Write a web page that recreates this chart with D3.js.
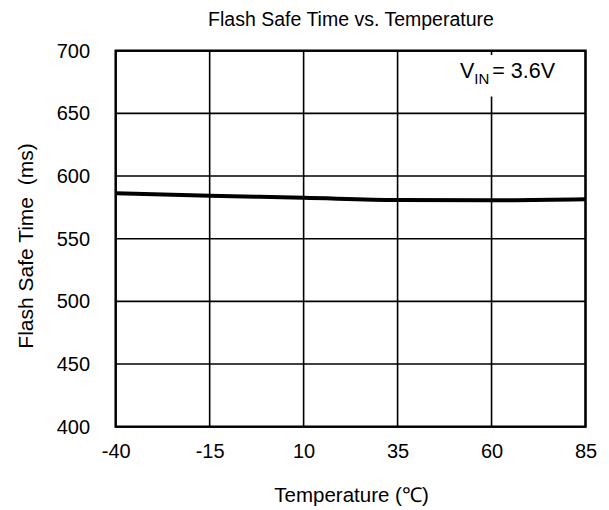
<!DOCTYPE html>
<html>
<head>
<meta charset="utf-8">
<script src="https://cdn.jsdelivr.net/npm/d3@7"></script>
<style>
  html, body { margin: 0; padding: 0; background: #fff; }
  svg { display: block; }
  text { font-family: "Liberation Sans", Arial, sans-serif; fill: #000; }
</style>
</head>
<body>
<svg id="chart" width="609" height="510"></svg>
<script>
// ---- data ----
const temperatures = [-40, -15, 10, 35, 60, 85];
const safeTime = [586.2, 584.3, 582.7, 580.9, 580.6, 581.4];
const xTicks = [-40, -15, 10, 35, 60, 85];
const yTicks = [400, 450, 500, 550, 600, 650, 700];
const chartTitle = "Flash Safe Time vs. Temperature";
const xTitle = "Temperature (℃)";
const yTitle = "Flash Safe Time  (ms)";

// ---- layout ----
const svg = d3.select("#chart");
const plotL = 115.7, plotR = 585.5, plotT = 50.7, plotB = 426.7;

const x = d3.scaleLinear().domain([-40, 85]).range([plotL, plotR]);
const y = d3.scaleLinear().domain([400, 700]).range([plotB, plotT]);

// gridlines
const grid = svg.append("g").attr("stroke", "#000").attr("stroke-width", 1.6);
grid.selectAll("line.v").data(xTicks).join("line").attr("class", "v")
  .attr("x1", d => x(d)).attr("x2", d => x(d))
  .attr("y1", plotT).attr("y2", plotB);
grid.selectAll("line.h").data(yTicks).join("line").attr("class", "h")
  .attr("x1", plotL).attr("x2", plotR)
  .attr("y1", d => y(d)).attr("y2", d => y(d));

// annotation background box (covers gridline)
svg.append("rect")
  .attr("x", 455).attr("y", 55)
  .attr("width", 126).attr("height", 41.5)
  .attr("fill", "#fff");

// data line
const line = d3.line()
  .x((d, i) => x(temperatures[i]))
  .y(d => y(d))
  .curve(d3.curveMonotoneX);
svg.append("path")
  .datum(safeTime)
  .attr("d", line)
  .attr("fill", "none")
  .attr("stroke", "#000")
  .attr("stroke-width", 4);

// plot border
svg.append("rect")
  .attr("x", plotL).attr("y", plotT)
  .attr("width", plotR - plotL).attr("height", plotB - plotT)
  .attr("fill", "none").attr("stroke", "#000").attr("stroke-width", 2.4);

// axes
const fmt = d => String(d);
const xAxis = svg.append("g")
  .attr("transform", `translate(0,${plotB})`)
  .call(d3.axisBottom(x).tickValues(xTicks).tickSize(0).tickPadding(17).tickFormat(fmt));
xAxis.select(".domain").remove();
xAxis.attr("font-family", null).attr("font-size", null);
xAxis.selectAll("text").style("font-size", "20px");

const yAxis = svg.append("g")
  .attr("transform", `translate(${plotL},0)`)
  .call(d3.axisLeft(y).tickValues(yTicks).tickSize(0).tickPadding(25.7).tickFormat(fmt));
yAxis.select(".domain").remove();
yAxis.attr("font-family", null).attr("font-size", null);
yAxis.selectAll("text").style("font-size", "20px");

// annotation text
const ann = svg.append("text")
  .attr("x", 460).attr("y", 78)
  .style("font-size", "21.5px");
ann.append("tspan").text("V");
ann.append("tspan").attr("dy", 6).style("font-size", "15px").text("IN");
ann.append("tspan").attr("dy", -6).attr("dx", 3).text("= 3.6V");

// titles
svg.append("text")
  .attr("x", 351).attr("y", 26)
  .attr("text-anchor", "middle")
  .style("font-size", "19.5px")
  .text(chartTitle);

svg.append("text")
  .attr("x", 351.5).attr("y", 501.5)
  .attr("text-anchor", "middle")
  .style("font-size", "20.5px")
  .text(xTitle);

svg.append("text")
  .attr("transform", "translate(33,246) rotate(-90)")
  .attr("text-anchor", "middle")
  .style("font-size", "21px")
  .style("white-space", "pre")
  .text(yTitle);
</script>
</body>
</html>
